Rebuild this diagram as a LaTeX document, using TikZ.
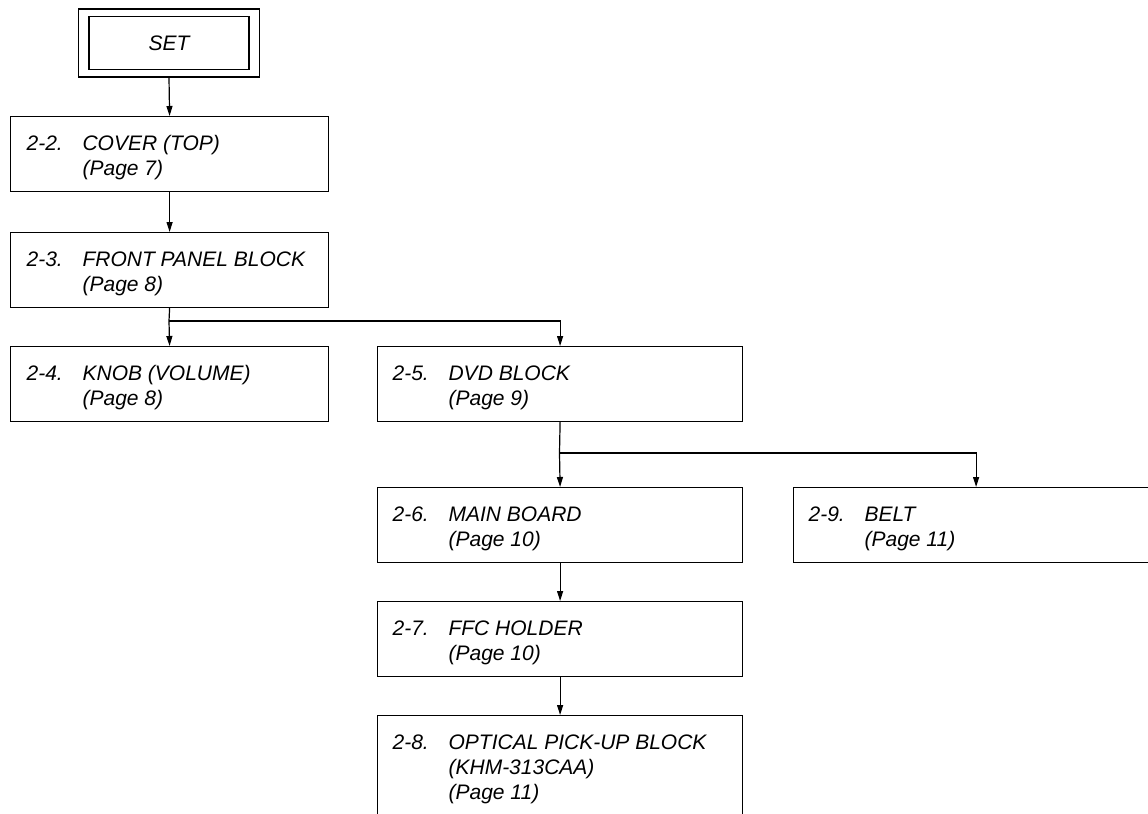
\documentclass[tikz,border=0pt]{standalone}
\usepackage{fontspec}
\setmainfont{Liberation Sans}
\usetikzlibrary{arrows.meta}

\tikzset{
  stepbox/.style={draw, rectangle, anchor=north west, inner sep=0pt, minimum height=37.5pt},
  leftbox/.style={stepbox, minimum width=159pt},
  rightbox/.style={stepbox, minimum width=182.5pt},
  boxtext/.style={anchor=base west, inner sep=0pt, font=\itshape\fontsize{10.5}{12.5}\selectfont},
}

\begin{document}
\begin{tikzpicture}[x=0.5pt, y=-0.5pt, line width=0.6pt, >={Triangle[length=5pt, width=3pt]}]
        \useasboundingbox (0,0) rectangle (1148,814);
        \clip (0,0) rectangle (1148,814);
        % top
        \node[draw, minimum width=90.5pt, minimum height=34pt, inner sep=0pt] (setframe) at (169,43) {};
        \node[draw, minimum width=80pt, minimum height=26.5pt, inner sep=0pt, font=\itshape\fontsize{10.5}{12.5}\selectfont] (set) at (169,43) {SET};
        % boxes
        \node[leftbox] (b22) at (10,116) {};
        \node[leftbox] (b23) at (10,232) {};
        \node[leftbox] (b24) at (10,346) {};
        \node[rightbox] (b25) at (377,346) {};
        \node[rightbox] (b26) at (377,487) {};
        \node[rightbox] (b29) at (793,487) {};
        \node[rightbox] (b27) at (377,601) {};
        \node[rightbox, minimum height=60pt] (b28) at (377,715) {};
        % texts
        \node[boxtext] (t22) at (26,150) {\begin{tabular}[t]{@{}p{28pt}@{}l@{}}2-2. & COVER (TOP)\\ & (Page 7)\end{tabular}};
        \node[boxtext] (t23) at (26,266) {\begin{tabular}[t]{@{}p{28pt}@{}l@{}}2-3. & FRONT PANEL BLOCK\\ & (Page 8)\end{tabular}};
        \node[boxtext] (t24) at (26,380) {\begin{tabular}[t]{@{}p{28pt}@{}l@{}}2-4. & KNOB (VOLUME)\\ & (Page 8)\end{tabular}};
        \node[boxtext] (t25) at (392,380) {\begin{tabular}[t]{@{}p{28pt}@{}l@{}}2-5. & DVD BLOCK\\ & (Page 9)\end{tabular}};
        \node[boxtext] (t26) at (392,521) {\begin{tabular}[t]{@{}p{28pt}@{}l@{}}2-6. & MAIN BOARD\\ & (Page 10)\end{tabular}};
        \node[boxtext] (t29) at (808,521) {\begin{tabular}[t]{@{}p{28pt}@{}l@{}}2-9. & BELT\\ & (Page 11)\end{tabular}};
        \node[boxtext] (t27) at (392,635) {\begin{tabular}[t]{@{}p{28pt}@{}l@{}}2-7. & FFC HOLDER\\ & (Page 10)\end{tabular}};
        \node[boxtext] (t28) at (392,749) {\begin{tabular}[t]{@{}p{28pt}@{}l@{}}2-8. & OPTICAL PICK-UP BLOCK\\ & (KHM-313CAA)\\ & (Page 11)\end{tabular}};
        % connectors
        \coordinate (j1) at (169,321);
        \coordinate (j2) at (559.5,453);
        \draw[->] (setframe.south) -- (b22.north);
        \draw[->] (b22.south) -- (b23.north);
        \draw (b23.south) -- (j1);
        \draw[->] (j1) -- (b24.north);
        \draw[->] (j1) -| (b25.north);
        \draw (b25.south) -- (j2);
        \draw[->] (j2) -- (b26.north);
        \draw[->] (j2) -| (b29.north);
        \draw[->] (b26.south) -- (b27.north);
        \draw[->] (b27.south) -- (b28.north);
    \end{tikzpicture}
\end{document}
